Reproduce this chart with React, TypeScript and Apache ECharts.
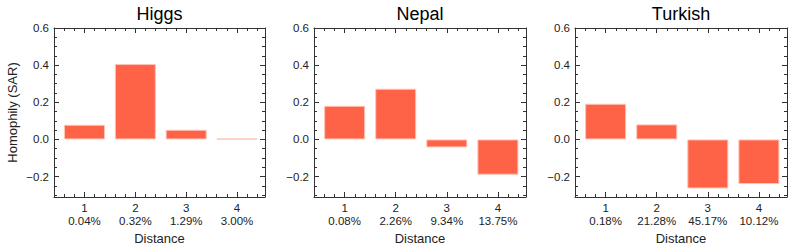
import React, { useEffect, useRef } from "react";
import * as echarts from "echarts";

const distances = [1, 2, 3, 4];
const panelTitles = ["Higgs", "Nepal", "Turkish"];
const higgsValues = [0.079, 0.406, 0.052, 0.004];
const nepalValues = [0.181, 0.273, -0.043, -0.19];
const turkishValues = [0.192, 0.081, -0.264, -0.24];
const higgsShares = ["0.04%", "0.32%", "1.29%", "3.00%"];
const nepalShares = ["0.08%", "2.26%", "9.34%", "13.75%"];
const turkishShares = ["0.18%", "21.28%", "45.17%", "10.12%"];
const yTicks = [-0.2, 0.0, 0.2, 0.4, 0.6];

const panelValues = [higgsValues, nepalValues, turkishValues];
const panelShares = [higgsShares, nepalShares, turkishShares];

const W = 793;
const H = 251;
const gridLefts = [54, 314, 575];
const gridWidths = [211, 212, 212];
const gridTop = 28;
const gridHeight = 169;
const FONT = "Liberation Sans, Arial, sans-serif";
const LINE = "#333";

export default function App() {
  const ref = useRef<HTMLDivElement>(null);
  useEffect(() => {
    if (!ref.current) return;
    const chart = echarts.init(ref.current, undefined, { renderer: "svg" });
    const grids: any[] = [];
    const xAxes: any[] = [];
    const yAxes: any[] = [];
    const series: any[] = [];
    const graphics: any[] = [];
    const axisTickCommon = { show: true, inside: true, length: 5, lineStyle: { color: LINE, width: 1 } };
    const minorCommon = (n: number) => ({ show: true, splitNumber: n, length: 3, lineStyle: { color: LINE, width: 1 } });

    for (let p = 0; p < 3; p++) {
      grids.push({ left: gridLefts[p], top: gridTop, width: gridWidths[p], height: gridHeight, show: false });
      const shares = panelShares[p];
      const xBase = {
        type: "value",
        gridIndex: p,
        min: 0.4,
        max: 4.55,
        minInterval: 1,
        maxInterval: 1,
        splitLine: { show: false },
        axisLine: { show: true, onZero: false, lineStyle: { color: LINE, width: 1 } },
        axisTick: axisTickCommon,
        minorTick: minorCommon(5),
      };
      xAxes.push({
        ...xBase,
        position: "bottom",
        name: "Distance",
        nameLocation: "middle",
        nameGap: 33,
        nameTextStyle: { fontFamily: FONT, fontSize: 13, color: "#222" },
        axisLabel: {
          show: true,
          margin: 5,
          fontFamily: FONT,
          fontSize: 11.5,
          color: "#222",
          lineHeight: 12.5,
          showMinLabel: false,
          showMaxLabel: false,
          formatter: (v: number) => {
            const i = distances.indexOf(v);
            if (i < 0) return "";
            return `${distances[i]}\n${shares[i]}`;
          },
        },
      });
      xAxes.push({ ...xBase, position: "top", axisLabel: { show: false } });

      const yBase = {
        type: "value",
        gridIndex: p,
        min: -0.31,
        max: 0.6,
        minInterval: 0.2,
        maxInterval: 0.2,
        splitLine: { show: false },
        axisLine: { show: true, onZero: false, lineStyle: { color: LINE, width: 1 } },
        axisTick: axisTickCommon,
        minorTick: minorCommon(4),
      };
      yAxes.push({
        ...yBase,
        position: "left",
        name: p === 0 ? "Homophily (SAR)" : "",
        nameLocation: "middle",
        nameRotate: 90,
        nameGap: 35,
        nameTextStyle: { fontFamily: FONT, fontSize: 13, color: "#222" },
        axisLabel: {
          show: true,
          margin: 5,
          fontFamily: FONT,
          fontSize: 11.5,
          color: "#222",
          formatter: (v: number) => {
            const t = yTicks.find((k) => Math.abs(k - v) < 1e-6);
            if (t === undefined) return "";
            const s = Math.abs(t).toFixed(1);
            return t < 0 ? `\u2212${s}` : s;
          },
        },
      });
      yAxes.push({ ...yBase, position: "right", axisLabel: { show: false } });

      series.push({
        type: "bar",
        xAxisIndex: p * 2,
        yAxisIndex: p * 2,
        barWidth: 41,
        data: distances.map((d, i) => [d, panelValues[p][i]]),
        itemStyle: { color: "#FF6347", borderColor: "#FFC2B4", borderWidth: 1 },
        silent: true,
      });

      graphics.push({
        type: "text",
        x: gridLefts[p] + gridWidths[p] / 2,
        y: 14,
        style: {
          text: panelTitles[p],
          fontFamily: FONT,
          fontSize: 18,
          fill: "#000",
          textAlign: "center",
          textVerticalAlign: "middle",
        },
      });
    }

    chart.setOption({
      animation: false,
      backgroundColor: "#fff",
      grid: grids,
      xAxis: xAxes,
      yAxis: yAxes,
      series,
      graphic: graphics,
    });
    return () => chart.dispose();
  }, []);
  return (
    <div
      ref={ref}
      style={{ position: "fixed", left: 0, top: 0, width: W, height: H }}
    />
  );
}
